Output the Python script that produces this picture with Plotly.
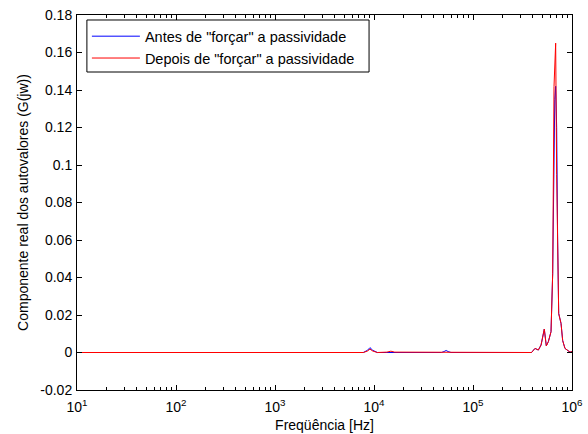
import plotly.graph_objects as go

# Frequency samples (Hz) and real part of eigenvalues
freq = [10, 1000, 7800, 8600, 9100, 9700, 10800, 13500, 14800, 16200, 48000, 51000,
        53500, 56000, 60000, 390000, 423000, 457000, 487000, 525000, 550000, 577000,
        614000, 638000, 658000, 670000, 684000, 700000, 716000, 734000, 775000,
        805000, 849000, 955000, 1000000]
antes = [0, 0, 0, 0.0012, 0.0026, 0.0012, 0, 0, 0, 0, 0, 0.0005,
         0.0011, 0.0005, 0, 0, 0.0022, 0.0013, 0.004, 0.0125, 0.0035, 0.0058,
         0.0111, 0.042, 0.110, 0.135, 0.142, 0.120, 0.060, 0.0208, 0.0155,
         0.0064, 0.0022, 0.0002, 0.0005]
depois = [0, 0, 0, 0.0008, 0.0018, 0.0008, 0, 0.0002, 0.0007, 0.0002, 0, 0,
          0, 0, 0, 0, 0.0022, 0.0013, 0.004, 0.0125, 0.0035, 0.0058,
          0.0111, 0.042, 0.1418, 0.158, 0.165, 0.095, 0.040, 0.0208, 0.0155,
          0.0064, 0.0022, 0.0002, 0.0005]

xtick_vals = [10, 100, 1000, 10000, 100000, 1000000]
xtick_text = ["10<sup>1</sup>", "10<sup>2</sup>", "10<sup>3</sup>", "10<sup>4</sup>",
              "10<sup>5</sup>", "10<sup>6</sup>"]
ytick_vals = [-0.02, 0, 0.02, 0.04, 0.06, 0.08, 0.1, 0.12, 0.14, 0.16, 0.18]
ytick_text = ["-0.02", "0", "0.02", "0.04", "0.06", "0.08", "0.1", "0.12", "0.14", "0.16", "0.18"]

FONT = "Liberation Sans, Arial, sans-serif"
FS = 14

fig = go.Figure()
fig.add_trace(go.Scatter(x=freq, y=antes, mode="lines",
                         line=dict(color="#0000ff", width=1),
                         name='Antes de "forçar" a passividade'))
fig.add_trace(go.Scatter(x=freq, y=depois, mode="lines",
                         line=dict(color="#ff0000", width=1),
                         name='Depois de "forçar" a passividade'))

axis_common = dict(showline=True, linecolor="black", linewidth=1, mirror="allticks",
                   ticks="inside", ticklen=5, tickcolor="black", showgrid=False,
                   zeroline=False, automargin=False,
                   tickfont=dict(family=FONT, size=FS, color="black"))

fig.update_xaxes(type="log", range=[1, 6], tickvals=xtick_vals, ticktext=xtick_text,
                 ticklabelstandoff=4,
                 minor=dict(ticks="inside", ticklen=3, tickcolor="black", dtick="D1", showgrid=False),
                 title=dict(text="Freqüência [Hz]", font=dict(family=FONT, size=FS, color="black"),
                            standoff=6),
                 **axis_common)
fig.update_yaxes(range=[-0.02, 0.18], tickvals=ytick_vals, ticktext=ytick_text,
                 ticklabelstandoff=1,
                 title=dict(text="Componente real dos autovalores (G(jw))",
                            font=dict(family=FONT, size=FS, color="black"), standoff=8),
                 **axis_common)

# legend frame drawn as a paper-space box (wider than plotly's own legend box)
fig.add_shape(type="rect", xref="paper", yref="paper",
              x0=0.02, x1=0.59, y0=0.848, y1=0.9867,
              line=dict(color="black", width=1), fillcolor="white", layer="above")

fig.update_layout(
    width=588, height=434,
    margin=dict(l=77, r=16, t=15, b=44),
    paper_bgcolor="white", plot_bgcolor="white",
    font=dict(family=FONT, size=FS, color="black"),
    legend=dict(x=0.02, y=0.986, xanchor="left", yanchor="top",
                borderwidth=0, bgcolor="rgba(0,0,0,0)",
                font=dict(family=FONT, size=14.5, color="black"),
                tracegroupgap=0, itemwidth=48),
    showlegend=True,
)

fig.write_html("out.html")
